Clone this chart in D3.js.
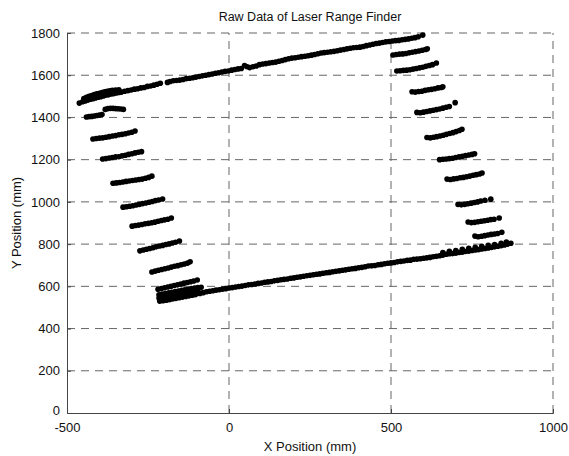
<!DOCTYPE html>
<html>
<head>
<meta charset="utf-8">
<script src="https://cdn.jsdelivr.net/npm/d3@7"></script>
<style>
  body { margin: 0; background: #fff; }
  text { font-family: "Liberation Sans", Arial, sans-serif; fill: #111; }
</style>
</head>
<body>
<div id="chart"></div>
<script>
// scan data, in mm
var xTicks = [-500, 0, 500, 1000];
var yTicks = [0, 200, 400, 600, 800, 1000, 1200, 1400, 1600, 1800];

var topWall = [
  [-462,1468],[-452,1474],[-444,1478],[-436,1482],[-428,1486],[-420,1489],[-412,1492],[-404,1496],
  [-396,1498],[-388,1502],[-380,1505],[-372,1507],[-364,1511],[-356,1513],[-348,1516],[-340,1518],
  [-332,1520],[-322,1524],[-312,1527],[-302,1530],[-292,1534],[-282,1536],[-272,1540],[-262,1542],
  [-252,1547],[-242,1549],[-232,1553],[-222,1557],[-212,1562],[-190,1566],[-182,1570],[-172,1574],
  [-162,1575],[-152,1577],[-142,1580],[-132,1584],[-122,1586],[-112,1588],[-102,1591],[-92,1594],
  [-82,1597],[-72,1600],[-62,1603],[-52,1606],[-42,1609],[-32,1612],[-22,1615],[-12,1618],
  [-2,1620],[8,1624],[18,1627],[28,1630],[38,1632],[48,1646],[56,1640],[64,1636],[74,1640],
  [84,1644],[94,1650],[104,1653],[114,1655],[124,1658],[134,1660],[144,1662],[154,1666],[164,1670],
  [174,1674],[184,1678],[194,1681],[204,1683],[214,1685],[224,1688],[234,1690],[244,1692],
  [254,1695],[264,1698],[274,1702],[284,1705],[294,1707],[304,1709],[314,1711],[324,1713],
  [334,1716],[344,1719],[354,1722],[364,1725],[374,1728],[384,1730],[394,1731],[404,1733],
  [414,1736],[424,1740],[434,1743],[444,1747],[454,1750],[464,1752],[474,1755],[484,1758],
  [494,1760],[504,1762],[514,1764],[524,1765],[534,1768],[544,1770],[554,1772],[564,1775],
  [574,1778],[584,1782],[598,1790],
  // thicker band at the left corner
  [-448,1490],[-440,1496],[-432,1500],[-424,1504],[-416,1508],[-408,1512],[-400,1514],[-392,1518],
  [-384,1521],[-376,1524],[-368,1526],[-360,1528],[-350,1530],[-340,1531]
];

var bottomWall = [
  [-90,566],[-80,570],[-70,574],[-60,577],[-50,579],[-40,582],[-30,584],[-20,587],[-10,589],[0,592],
  [10,594],[20,597],[30,599],[40,601],[50,604],[60,607],[70,609],[80,611],[90,614],[100,616],
  [110,619],[120,621],[130,623],[140,626],[150,628],[160,631],[170,633],[180,635],[190,638],[200,640],
  [210,643],[220,645],[230,648],[240,650],[250,652],[260,655],[270,657],[280,659],[290,662],[300,664],
  [310,666],[320,669],[330,671],[340,673],[350,676],[360,678],[370,681],[380,683],[390,685],[400,688],
  [410,690],[420,693],[430,696],[440,697],[450,699],[460,702],[470,704],[480,707],[490,709],[500,711],
  [510,713],[520,716],[530,718],[540,720],[550,723],[560,724],[570,728],[580,729],[590,731],[600,733],
  [610,735],[620,737],[630,740],[640,742],[650,745],[660,748],[670,752],[680,754],[690,755],[700,757],
  [710,760],[720,762],[730,765],[740,767],[750,770],[760,772],[770,774],[780,777],[790,779],[800,782],
  [810,784],[820,787],[830,790],[840,793],[850,796],[860,800],[870,804],
  [660,760],[680,766],[700,770],[720,775],[740,780],[760,785],[780,790],[800,794],[820,798],[840,804],[856,810]
];

var leftScans = [
  [-440,1402],[-432,1404],[-424,1405],[-416,1407],[-408,1409],[-400,1411],[-392,1414],
  [-382,1438],[-374,1442],[-366,1443],[-358,1443],[-350,1442],[-342,1441],[-334,1440],[-326,1438],
  [-420,1298],[-410,1300],[-400,1302],[-390,1303],[-380,1306],[-370,1309],[-360,1312],[-350,1314],
  [-340,1318],[-330,1320],[-320,1323],[-310,1326],[-300,1330],[-290,1336],
  [-390,1203],[-380,1205],[-370,1208],[-360,1210],[-350,1213],[-340,1214],[-330,1218],[-320,1221],
  [-310,1225],[-300,1228],[-290,1232],[-280,1235],[-270,1238],
  [-358,1088],[-348,1090],[-338,1092],[-328,1094],[-318,1097],[-308,1099],[-298,1101],[-288,1104],
  [-278,1106],[-268,1108],[-258,1112],[-248,1116],[-238,1122],
  [-327,975],[-317,977],[-307,979],[-297,982],[-287,985],[-277,988],[-267,992],[-257,995],
  [-247,998],[-237,1002],[-227,1006],[-217,1009],[-205,1014],
  [-299,885],[-289,888],[-279,890],[-269,893],[-259,896],[-249,898],[-239,901],[-229,904],
  [-219,908],[-209,912],[-199,915],[-189,918],[-178,924],
  [-275,768],[-265,772],[-255,776],[-245,779],[-235,783],[-225,787],[-215,791],[-205,794],
  [-195,798],[-185,801],[-175,805],[-165,809],[-153,815],
  [-238,668],[-228,672],[-218,676],[-208,680],[-198,683],[-188,687],[-178,691],[-168,695],
  [-158,698],[-148,702],[-138,706],[-128,710],[-120,716],
  [-219,586],[-209,590],[-199,593],[-189,597],[-179,600],[-169,604],[-159,607],[-149,611],
  [-139,615],[-129,618],[-119,622],[-109,625],[-98,630],
  [-216,560],[-206,563],[-196,566],[-186,569],[-176,572],[-166,575],[-156,578],[-146,581],
  [-136,584],[-126,587],[-116,590],[-106,592],[-96,594],[-86,596],
  [-216,545],[-206,548],[-196,551],[-186,554],[-176,557],[-166,560],[-156,563],[-146,566],
  [-136,569],[-126,572],[-116,575],[-106,578],[-96,580],
  [-214,530],[-204,532],[-194,534],[-184,537],[-174,540],[-164,543],[-154,546],[-144,549],
  [-134,552],[-124,555],[-114,558],[-104,560]
];

var rightScans = [
  [506,1696],[516,1698],[526,1700],[536,1701],[546,1703],[556,1706],[566,1709],[576,1712],
  [586,1715],[596,1718],[606,1722],[612,1725],
  [518,1620],[528,1621],[538,1623],[548,1624],[558,1626],[568,1629],[578,1632],[588,1635],
  [598,1638],[608,1642],[618,1646],[628,1650],[640,1658],
  [565,1522],[575,1520],[585,1523],[595,1524],[605,1528],[615,1531],[625,1533],[635,1536],
  [645,1540],[655,1542],[660,1545],
  [580,1424],[590,1422],[600,1425],[610,1428],[620,1431],[630,1434],[640,1437],[650,1440],
  [660,1444],[670,1448],[680,1452],[698,1470],
  [611,1305],[621,1303],[631,1306],[641,1309],[651,1312],[661,1316],[671,1320],[681,1324],
  [691,1328],[701,1333],[711,1338],[719,1344],
  [650,1200],[660,1202],[670,1203],[680,1205],[690,1207],[700,1210],[710,1213],[720,1216],
  [730,1219],[740,1222],[750,1225],[758,1228],
  [673,1108],[683,1106],[693,1109],[703,1111],[713,1114],[723,1116],[733,1119],[743,1122],
  [753,1126],[763,1129],[773,1132],[781,1137],
  [707,988],[717,986],[727,988],[737,991],[747,994],[757,997],[767,1000],[777,1004],[790,1008],[808,1013],
  [738,905],[748,902],[758,903],[768,906],[778,908],[788,911],[798,913],[808,916],[818,918],[834,924],
  [759,838],[769,835],[779,837],[789,840],[799,843],[809,846],[819,848],[829,850],[842,856]
];

var W = 569, H = 456;
var margin = {top: 33, right: 16, bottom: 43, left: 67};

var svg = d3.select("#chart").append("svg")
  .attr("width", W)
  .attr("height", H);

var x = d3.scaleLinear().domain([-500, 1000]).range([margin.left, W - margin.right]);
var y = d3.scaleLinear().domain([0, 1800]).range([H - margin.bottom, margin.top]);

// dashed grid
var grid = svg.append("g").attr("stroke", "#666").attr("stroke-width", 1).attr("stroke-dasharray", "8,6");
grid.selectAll("line.gx").data(xTicks.slice(1)).enter().append("line")
  .attr("x1", function(d){ return x(d); }).attr("x2", function(d){ return x(d); })
  .attr("y1", y(0)).attr("y2", y(1800));
grid.selectAll("line.gy").data(yTicks.slice(1)).enter().append("line")
  .attr("y1", function(d){ return y(d); }).attr("y2", function(d){ return y(d); })
  .attr("x1", x(-500)).attr("x2", x(1000));

// axes, matlab style ticks pointing in, plain hyphen for minus
var xAxis = svg.append("g")
  .attr("transform", "translate(0," + y(0) + ")")
  .call(d3.axisBottom(x).tickValues(xTicks).tickSize(-4).tickPadding(10).tickFormat(function(d){ return String(d); }));
var yAxis = svg.append("g")
  .attr("transform", "translate(" + x(-500) + ",0)")
  .call(d3.axisLeft(y).tickValues(yTicks).tickSize(-4).tickPadding(7).tickFormat(function(d){ return String(d); }));
[xAxis, yAxis].forEach(function(a){
  a.select(".domain").attr("stroke", "#444");
  a.selectAll(".tick line").attr("stroke", "#444");
  a.selectAll("text").style("font-size", "13px").attr("fill", "#111");
});
// keep the y "0" clear of the "-500" below it
yAxis.selectAll(".tick text").filter(function(d){ return d === 0; }).attr("dy", "0.15em");

// points
var allPts = topWall.concat(bottomWall, leftScans, rightScans);
svg.append("g").selectAll("circle")
  .data(allPts)
  .enter().append("circle")
  .attr("cx", function(d){ return x(d[0]); })
  .attr("cy", function(d){ return y(d[1]); })
  .attr("r", 2.8)
  .attr("fill", "#000");

svg.append("text")
  .attr("x", (x(-500) + x(1000)) / 2).attr("y", 21)
  .attr("text-anchor", "middle").style("font-size", "12.5px")
  .text("Raw Data of Laser Range Finder");

svg.append("text")
  .attr("x", (x(-500) + x(1000)) / 2).attr("y", 451)
  .attr("text-anchor", "middle").style("font-size", "13px")
  .text("X Position (mm)");

svg.append("text")
  .attr("transform", "translate(21," + (y(900)) + ") rotate(-90)")
  .attr("text-anchor", "middle").style("font-size", "13px")
  .text("Y Position (mm)");
</script>
</body>
</html>
